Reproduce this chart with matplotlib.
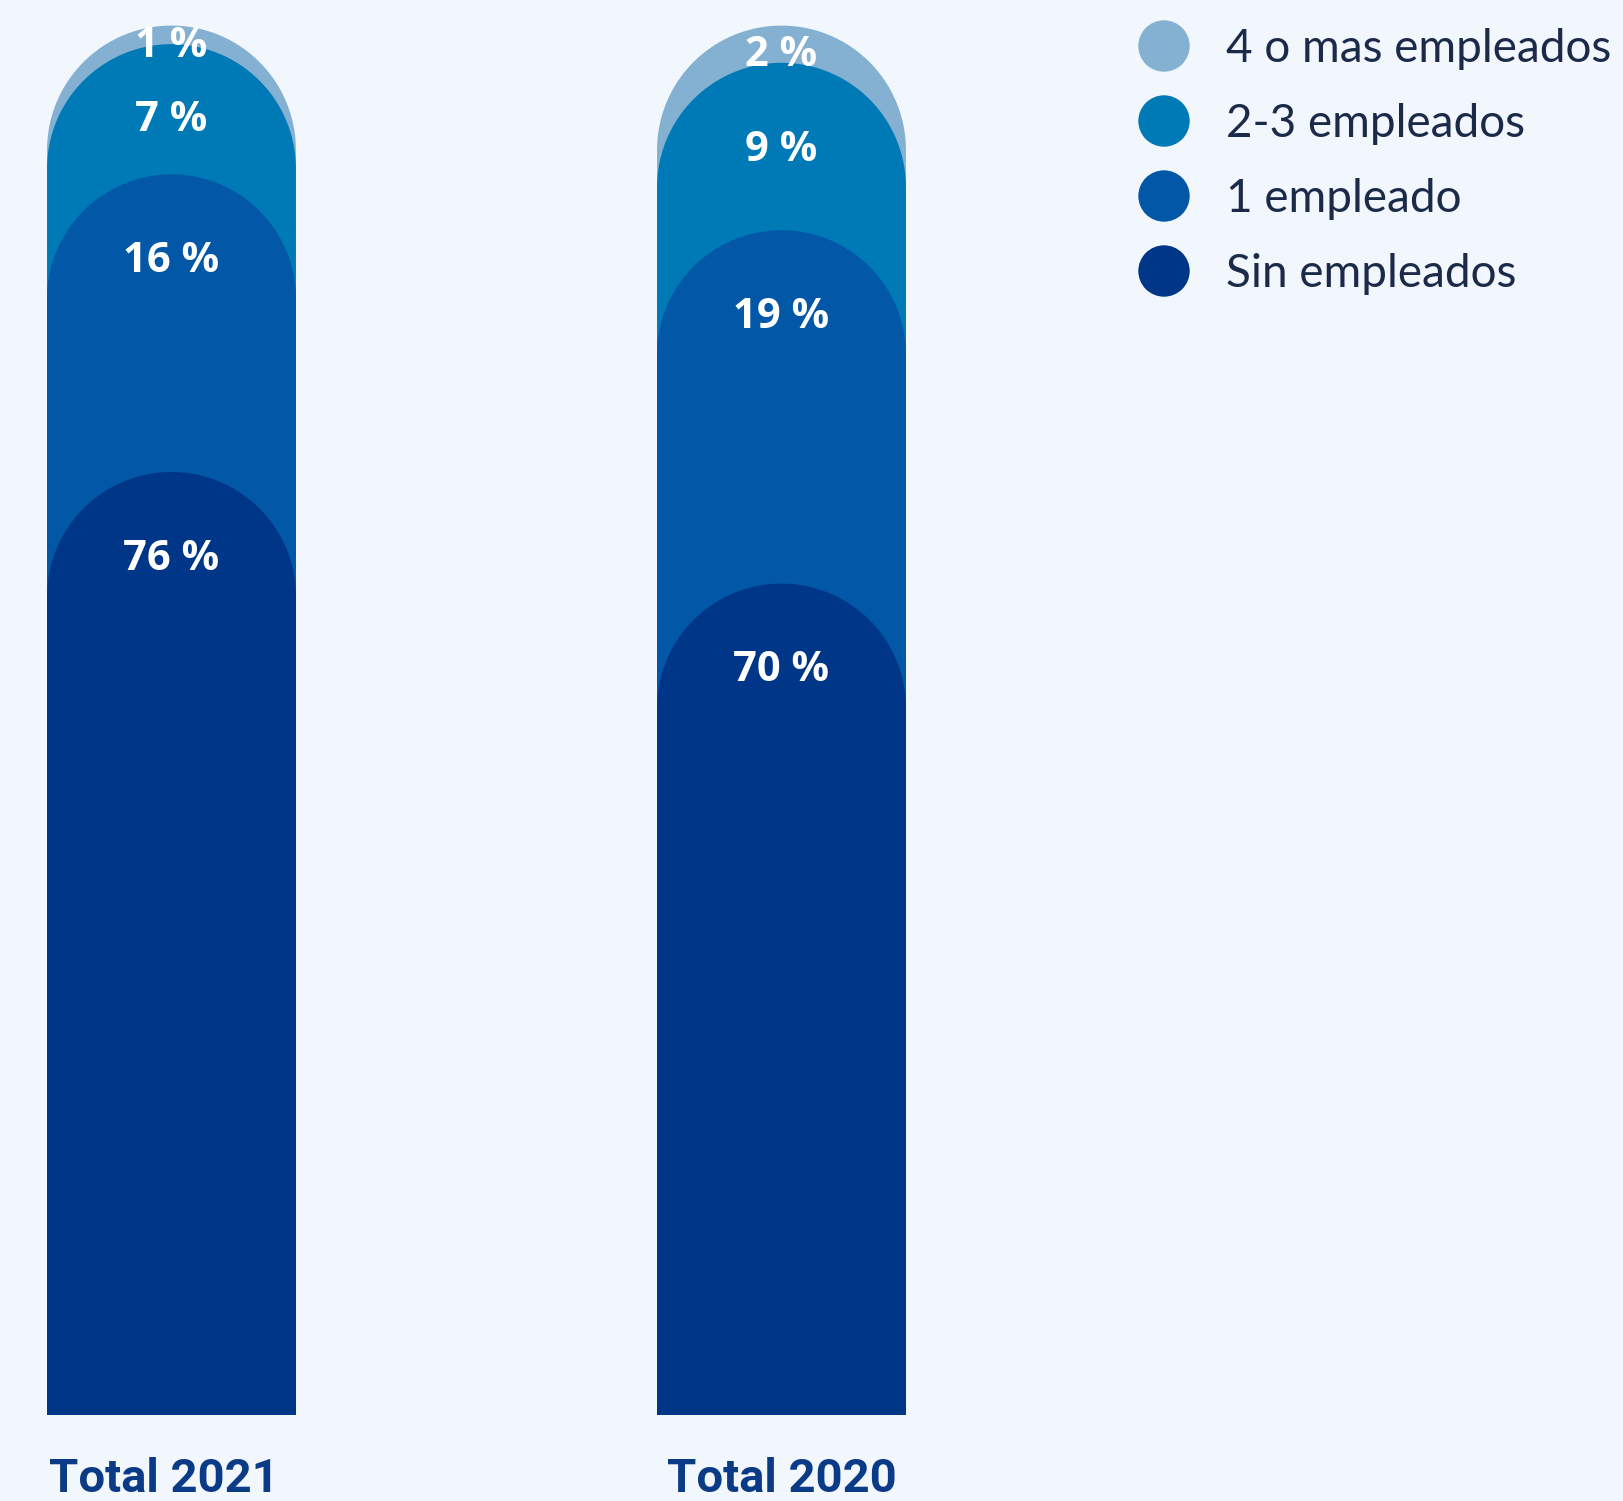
"""Stacked share of self-employed workers by number of employees, 2021 vs 2020."""

import matplotlib

matplotlib.use("Agg")
import matplotlib.pyplot as plt
import numpy as np
from matplotlib.path import Path
from matplotlib.patches import PathPatch


years = ["Total 2021", "Total 2020"]
categories = ["Sin empleados", "1 empleado", "2-3 empleados", "4 o mas empleados"]
shares_2021 = [76, 16, 7, 1]
shares_2020 = [70, 19, 9, 2]

COLORS = ["#003687", "#0257a7", "#0079b7", "#84b1d2"]
BG = "#f2f6fd"
NAVY = "#0b3a86"
TEXT = "#1c2a4a"

FLOOR = 25.3       # bars rise from this level, the axis is not zero-based
BAR_W = 0.408
LABEL_DROP = 4.7   # how far below a cap the label sits on tall segments


def rounded_bar(ax, x, top, width, color, zorder):
    # rectangle with a semicircular cap, kept round on screen
    (x0, y0), (x1, y1) = ax.transData.transform([(0, 0), (1, 1)])
    ry = (width / 2) * abs(x1 - x0) / abs(y1 - y0)
    t = np.linspace(np.pi, 0, 80)
    cx = x + width / 2 * np.cos(t)
    cy = top - ry + ry * np.sin(t)
    verts = [(x - width / 2, FLOOR)] + list(zip(cx, cy)) + [(x + width / 2, FLOOR), (x - width / 2, FLOOR)]
    codes = [Path.MOVETO] + [Path.LINETO] * (len(verts) - 2) + [Path.CLOSEPOLY]
    ax.add_patch(PathPatch(Path(verts, codes), facecolor=color, edgecolor="none", zorder=zorder))


fig = plt.figure(figsize=(16.23, 15.01), dpi=100, facecolor=BG)
ax = fig.add_axes([0, 0, 1, 1])
ax.set_facecolor(BG)
ax.set_xlim(-0.2811, 2.3795)
ax.set_ylim(20.676, 101.375)
ax.set_axis_off()

for xi, shares in enumerate([shares_2021, shares_2020]):
    cum = np.cumsum(shares)
    below = np.concatenate([[0], cum[:-1]])
    # tallest segment first so the lower ones are painted over it
    for i in reversed(range(len(shares))):
        rounded_bar(ax, xi, cum[i], BAR_W, COLORS[i], zorder=2 + (len(shares) - i))
    for i, v in enumerate(shares):
        y = max((cum[i] + below[i]) / 2 - 0.6, cum[i] - LABEL_DROP)
        ax.text(xi, y, f"{v} %", ha="center", va="center", color="white",
                fontsize=30, fontweight="bold", family=["Open Sans", "DejaVu Sans"], zorder=10)
    ax.text(xi - 0.012 * (1 - xi), 0.0, years[xi], transform=ax.get_xaxis_transform(),
            ha="center", va="bottom", color=NAVY, fontsize=34, fontweight="bold",
            family=["Roboto", "DejaVu Sans"])

# legend, top entry is the top segment
leg_y = [46, 121, 196, 271]
for k, cat in enumerate(reversed(categories)):
    color = COLORS[len(categories) - 1 - k]
    yy = 1 - leg_y[k] / 1501
    ax.scatter([1164 / 1623], [yy], s=37 ** 2, color=color, transform=ax.transAxes,
               clip_on=False, zorder=5, edgecolors="none")
    ax.text(1226 / 1623, yy - 16 / 1501, cat, transform=ax.transAxes, ha="left",
            va="baseline", color=TEXT, fontsize=33, family=["Lato", "DejaVu Sans"])

fig.savefig("out.png", dpi=100, facecolor=BG)
